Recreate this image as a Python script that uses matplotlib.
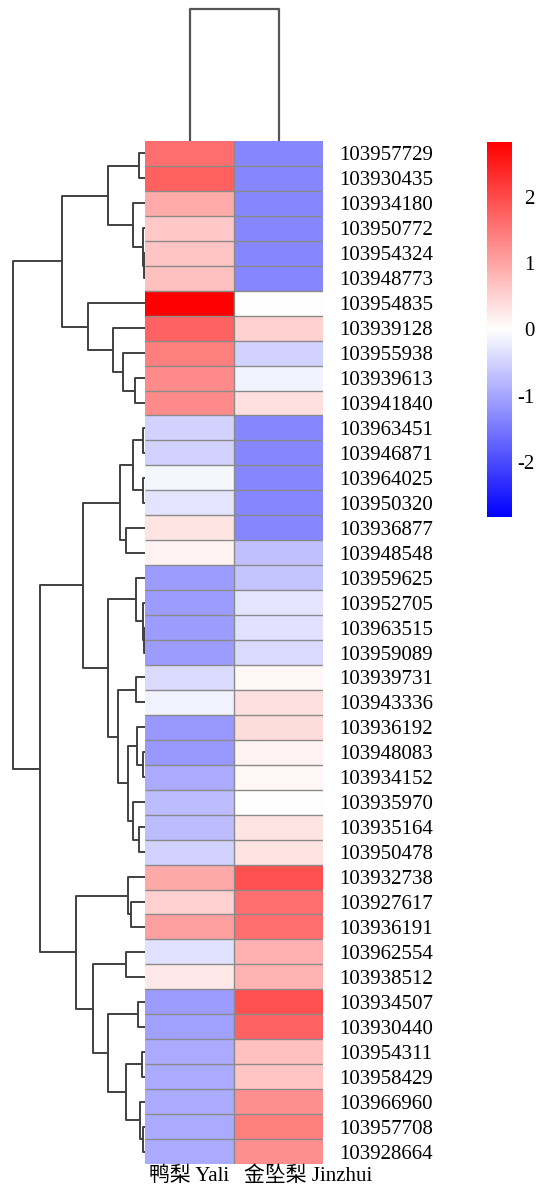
import numpy as np
import matplotlib
matplotlib.use("Agg")
import matplotlib.pyplot as plt

plt.rcParams['font.family'] = ['Liberation Serif', 'Noto Sans CJK SC']
plt.rcParams['axes.unicode_minus'] = False

# row labels, in display order (top to bottom)
genes = ["103957729", "103930435", "103934180", "103950772", "103954324",
         "103948773", "103954835", "103939128", "103955938", "103939613",
         "103941840", "103963451", "103946871", "103964025", "103950320",
         "103936877", "103948548", "103959625", "103952705", "103963515",
         "103959089", "103939731", "103943336", "103936192", "103948083",
         "103934152", "103935970", "103935164", "103950478", "103932738",
         "103927617", "103936191", "103962554", "103938512", "103934507",
         "103930440", "103954311", "103958429", "103966960", "103957708",
         "103928664"]
samples = ["鸭梨 Yali", "金坠梨 Jinzhui"]

yali = [1.60, 1.77, 0.95, 0.62, 0.65, 0.70, 2.84, 1.75, 1.42, 1.30,
        1.30, -0.50, -0.50, -0.10, -0.30, 0.30, 0.15, -1.10, -1.10, -1.10,
        -1.10, -0.40, -0.15, -1.15, -1.15, -0.95, -0.75, -0.75, -0.50, 0.97,
        0.52, 1.05, -0.35, 0.25, -1.10, -1.05, -0.95, -0.95, -0.95, -0.95,
        -0.95]
jinzhui = [-1.35, -1.35, -1.35, -1.35, -1.35, -1.35, 0.02, 0.50, -0.50, -0.15,
           0.35, -1.35, -1.35, -1.35, -1.35, -1.35, -0.70, -0.65, -0.30, -0.33,
           -0.40, 0.10, 0.35, 0.38, 0.15, 0.10, 0.00, 0.30, 0.33, 1.95,
           1.60, 1.60, 0.88, 0.85, 1.95, 1.75, 0.70, 0.65, 1.25, 1.42,
           1.25]

# row linkage (scipy style): ids < 41 are rows in display order,
# id 41+k is the k-th merge; height = cluster distance
row_link = [
    (4, 5, 1), (3, 41, 2), (0, 1, 6), (2, 42, 12), (43, 44, 37),
    (9, 10, 10), (8, 46, 22), (7, 47, 32), (6, 48, 57), (45, 49, 83),
    (11, 12, 2), (13, 14, 2), (51, 52, 12), (15, 16, 19), (53, 54, 25),
    (19, 20, 1), (18, 56, 2), (17, 57, 9), (21, 22, 9), (24, 25, 2),
    (23, 60, 8), (27, 28, 6), (26, 62, 12), (61, 63, 17), (59, 64, 27),
    (58, 65, 37), (55, 66, 62), (30, 31, 14), (29, 68, 17), (32, 33, 19),
    (34, 35, 7), (36, 37, 3), (39, 40, 2), (38, 73, 5), (72, 74, 19),
    (71, 75, 37), (70, 76, 52), (69, 77, 69), (67, 78, 105), (50, 79, 132),
]
# column linkage: the two samples join at the top
col_link = [(0, 1, 1.0)]

data = np.array([yali, jinzhui]).T
n = len(genes)
vmax = np.abs(data).max()

W, H = 542, 1191
fig = plt.figure(figsize=(W / 100, H / 100), dpi=100)


def fr(x0, y0, x1, y1):
    # pixel box -> figure fraction rect
    return [x0 / W, 1 - y1 / H, (x1 - x0) / W, (y1 - y0) / H]


ax = fig.add_axes(fr(145, 141, 323, 1164))
axr = fig.add_axes(fr(0, 141, 145, 1164))
axc = fig.add_axes(fr(145, 0, 323, 141))
cax = fig.add_axes(fr(487, 142, 512, 517))

mesh = ax.pcolormesh(data, cmap='bwr', vmin=-vmax, vmax=vmax)
# grey separators between cells
ax.hlines(np.arange(1, n), 0, 2, color='#8a8a8a', lw=1.0)
ax.vlines([1], 0, n, color='#8a8a8a', lw=1.0)
ax.set_xlim(0, 2)
ax.set_ylim(n, 0)
for s in ax.spines.values():
    s.set_visible(False)
ax.yaxis.tick_right()
ax.set_yticks(np.arange(n) + 0.5)
ax.set_yticklabels(genes, fontsize=15)
ax.tick_params(axis='y', length=0, pad=12)
ax.set_xticks([])
# sample labels under the columns
ax.text(0.5, n + 0.1, samples[0], ha='center', va='top', fontsize=15)
ax.text(1.11, n + 0.1, samples[1], ha='left', va='top', fontsize=15)


def draw_dendro(axis, link, nleaves, orient):
    pos = {i: i + 0.5 for i in range(nleaves)}
    hgt = {i: 0.0 for i in range(nleaves)}
    for k, (a, b, h) in enumerate(link):
        ya, yb = pos[a], pos[b]
        hs = [hgt[a], h, h, hgt[b]]
        ps = [ya, ya, yb, yb]
        if orient == 'left':
            axis.plot(hs, ps, color='#404040', lw=1.4, solid_capstyle='butt')
        else:
            axis.plot(ps, hs, color='#555555', lw=1.6, solid_capstyle='butt')
        pos[nleaves + k] = (ya + yb) / 2
        hgt[nleaves + k] = h


draw_dendro(axr, row_link, n, 'left')
axr.set_ylim(n, 0)
axr.set_xlim(max(l[2] for l in row_link) * 1.1, 0)
axr.axis('off')

draw_dendro(axc, col_link, 2, 'top')
axc.set_xlim(0, 2)
axc.set_ylim(0, 1.07)
axc.axis('off')

cb = fig.colorbar(mesh, cax=cax)
cb.outline.set_visible(False)
cticks = [-2, -1, 0, 1, 2]
cax.set_yticks(cticks, labels=[str(t) for t in cticks], ha='right')
cax.tick_params(length=0, pad=16.5, labelsize=15)

fig.savefig('out.png', dpi=100)
